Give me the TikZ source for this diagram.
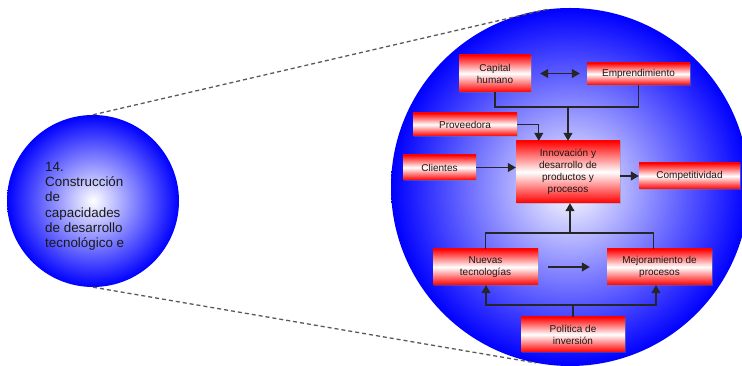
\documentclass[tikz,border=0pt]{standalone}
\usepackage{fontspec}
\setmainfont{Liberation Sans}
\usetikzlibrary{positioning,arrows.meta,shadows}

\tikzset{
  ball/.style={circle, inner sep=0pt, shade, inner color=white, outer color=blue},
  factor/.style={rectangle, inner sep=1pt, align=center, text=black!90,
    top color=red, bottom color=red, middle color=white,
    font=\fontsize{10}{12}\selectfont,
    drop shadow={shadow xshift=0.8pt, shadow yshift=-0.8pt, opacity=0.35}},
  link/.style={draw=black!85, line width=1.1pt},
  arr/.style={link, -{Triangle[length=8pt,width=9pt]}},
  zoomline/.style={draw=black!65, line width=1.3pt, dash pattern=on 4pt off 3pt}
}

\begin{document}
\begin{tikzpicture}[x=1pt, y=1pt]
  \useasboundingbox (0,0) rectangle (742,366);
  % Circulos
  \node[ball, minimum size=358pt] (bigball) at (570,179) {};
  \node[ball, minimum size=172pt] (smallball) at (93,165) {};
  \draw[zoomline] (smallball.north) -- (bigball.97);
  \draw[zoomline] (smallball.south) -- (bigball.259);
  \node[anchor=north west, align=left, inner sep=0pt, text=black!90,
    font=\fontsize{13.4}{15.2}\selectfont] (title) at (45,204)
    {14.\\Construcción\\de\\capacidades\\de desarrollo\\tecnológico e};

  % Factores
  \node[factor, minimum width=72pt, minimum height=37pt] (cap) at (495,292.5) {Capital\\humano};
  \node[factor, minimum width=103pt, minimum height=22pt] (emp) at (638.5,292) {Emprendimiento};
  \node[factor, minimum width=104pt, minimum height=23pt] (prov) at (465,241.5) {Proveedora};
  \node[factor, minimum width=104pt, minimum height=62pt] (innov) at (568,194)
    {Innovación y\\desarrollo de\\productos y\\procesos};
  \node[factor, minimum width=73pt, minimum height=25pt] (cli) at (439.5,198.5) {Clientes};
  \node[factor, minimum width=101pt, minimum height=26pt] (comp) at (689.5,190) {Competitividad};
  \node[factor, minimum width=105pt, minimum height=36pt] (nuev) at (485.5,99) {Nuevas\\tecnologías};
  \node[factor, minimum width=105pt, minimum height=36pt] (mej) at (659.5,99) {Mejoramiento de\\procesos};
  \node[factor, minimum width=104pt, minimum height=35pt] (pol) at (573,31.5) {Política de\\inversión};

  % Conexiones
  \draw[link, {Triangle[length=8pt,width=9pt]}-{Triangle[length=8pt,width=9pt]},
    shorten <=9pt, shorten >=7pt] (cap.east) -- (cap.east -| emp.west);
  \coordinate (jtop) at (568,259);
  \draw[link] (cap.south) |- (jtop) -| (emp.south);
  \draw[arr] (jtop) -- (innov.north);
  \draw[arr] (prov.east) -| ([xshift=23pt]innov.north west);
  \draw[arr] (cli.east) -- (cli.east -| innov.west);
  \draw[arr] (innov.east |- comp.west) -- (comp.west);

  \coordinate (jbot) at (570,133);
  \draw[link] (nuev.north) |- (jbot) -| ([xshift=-6pt]mej.north);
  \draw[arr] (jbot) -- (jbot |- innov.south);
  \draw[arr, shorten <=10pt, shorten >=17pt] (nuev.east) -- (mej.west);

  \coordinate (jpol) at (573,61);
  \draw[link] (pol.north) -- (jpol);
  \draw[arr] (jpol) -| ([xshift=0.5pt]nuev.south);
  \draw[arr] (jpol) -| ([xshift=-3.5pt]mej.south);
\end{tikzpicture}
\end{document}
